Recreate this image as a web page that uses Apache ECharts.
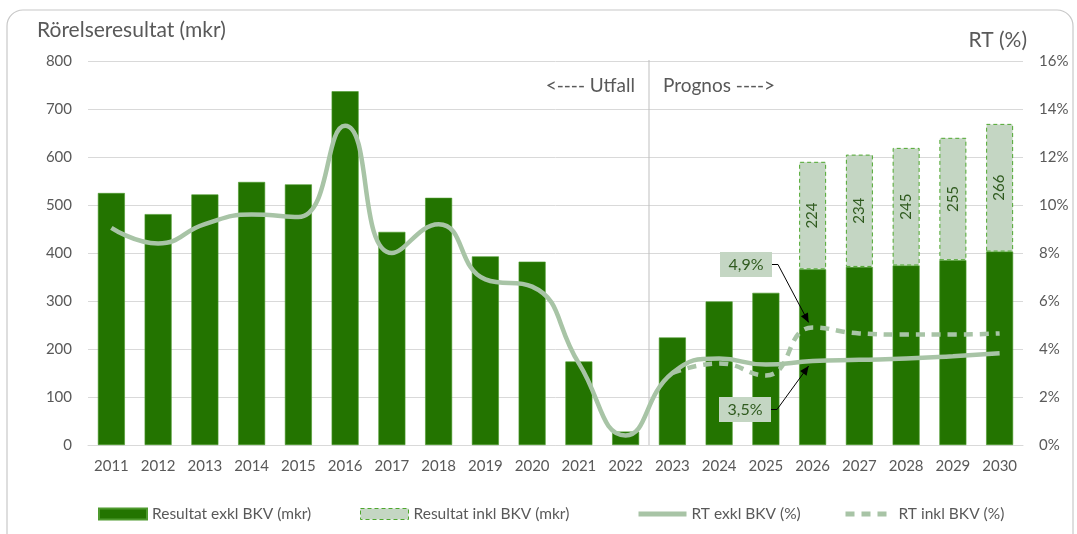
<!DOCTYPE html>
<html>
<head>
<meta charset="utf-8">
<script src="https://cdn.jsdelivr.net/npm/echarts@6/dist/echarts.min.js"></script>
<style>
  html, body { margin: 0; padding: 0; background: #fff; }
  #chart { width: 1077px; height: 534px; }
</style>
</head>
<body>
<div id="chart"></div>
<script>
// data
const years = ['2011', '2012', '2013', '2014', '2015', '2016', '2017', '2018', '2019', '2020',
  '2021', '2022', '2023', '2024', '2025', '2026', '2027', '2028', '2029', '2030']
const resExkl = [525, 481, 522, 548, 543, 737, 444, 515, 393, 382,
  174, 28, 224, 299, 317, 366, 371, 374, 385, 403]
const resInklExtra = [null, null, null, null, null, null, null, null, null, null,
  null, null, null, null, null, 224, 234, 245, 255, 266]
const rtExkl = [9.05, 8.4, 9.2, 9.6, 9.5, 13.3, 8.0, 9.2, 6.9, 6.6,
  3.4, 0.4, 3.0, 3.6, 3.35, 3.5, 3.55, 3.6, 3.7, 3.82]
const rtInkl = [null, null, null, null, null, null, null, null, null, null,
  null, null, 3.0, 3.4, 2.9, 4.9, 4.65, 4.6, 4.6, 4.65]

const textColor = '#595959'
const darkGreen = '#237400'
const paleGreen = '#c4d6c3'
const lineGreen = '#a8c4a6'
const font = 'Lato'

// one legend per entry so each sits where the reference has it
function legendAt (left, entry) {
  return {
    bottom: 12,
    left: left,
    padding: 0,
    itemWidth: 48,
    itemHeight: 11,
    itemGap: 0,
    textStyle: { color: textColor, fontSize: 15.5, fontFamily: font },
    data: [entry]
  }
}

const chart = echarts.init(document.getElementById('chart'))
chart.setOption({
  animation: false,
  textStyle: { fontFamily: font },
  grid: { left: 88, right: 54, top: 61, bottom: 89 },
  legend: [
    legendAt(98, { name: 'Resultat exkl BKV (mkr)', icon: 'rect' }),
    legendAt(360, { name: 'Resultat inkl BKV (mkr)', icon: 'rect', itemStyle: { borderColor: '#4ea72e', borderWidth: 1, borderType: [4, 3] } }),
    legendAt(636, { name: 'RT exkl BKV (%)', itemStyle: { opacity: 0 }, lineStyle: { width: 5 } }),
    legendAt(843, { name: 'RT inkl BKV (%)', itemStyle: { opacity: 0 }, lineStyle: { width: 5 } })
  ],
  xAxis: {
    type: 'category',
    data: years,
    axisLine: { lineStyle: { color: '#d9d9d9' } },
    axisTick: { show: false },
    axisLabel: { color: textColor, fontSize: 15, margin: 14 }
  },
  yAxis: [
    {
      type: 'value',
      min: 0,
      max: 800,
      interval: 100,
      name: 'Rörelseresultat (mkr)',
      nameLocation: 'end',
      nameGap: 20,
      nameTextStyle: { color: textColor, fontSize: 21, align: 'left', padding: [0, 0, 0, -51] },
      axisLabel: { color: textColor, fontSize: 15, margin: 16 },
      splitLine: { lineStyle: { color: '#d9d9d9' } }
    },
    {
      type: 'value',
      min: 0,
      max: 16,
      interval: 2,
      name: 'RT (%)',
      nameLocation: 'end',
      nameGap: 10,
      nameTextStyle: { color: textColor, fontSize: 21, align: 'right', padding: [0, -4, 0, 0] },
      axisLabel: { color: textColor, fontSize: 15, margin: 16, formatter: '{value}%' },
      splitLine: { show: false }
    }
  ],
  series: [
    {
      name: 'Resultat exkl BKV (mkr)',
      type: 'bar',
      stack: 'res',
      barWidth: 27,
      data: resExkl,
      itemStyle: { color: darkGreen, borderColor: '#4e9a2e', borderWidth: 0.6 }
    },
    {
      name: 'Resultat inkl BKV (mkr)',
      type: 'bar',
      stack: 'res',
      barWidth: 27,
      data: resInklExtra,
      itemStyle: { color: paleGreen, borderColor: '#4ea72e', borderWidth: 1, borderType: [4, 3] },
      label: {
        show: true,
        position: 'inside',
        rotate: 90,
        color: '#2f5a1e',
        fontSize: 15,
        fontFamily: font
      }
    },
    {
      name: 'RT exkl BKV (%)',
      type: 'line',
      yAxisIndex: 1,
      smooth: 0.5,
      symbol: 'none',
      data: rtExkl,
      lineStyle: { color: lineGreen, width: 4.5 },
      itemStyle: { color: lineGreen },
      z: 5
    },
    {
      name: 'RT inkl BKV (%)',
      type: 'line',
      yAxisIndex: 1,
      smooth: 0.5,
      symbol: 'none',
      data: rtInkl,
      lineStyle: { color: lineGreen, width: 4.5, type: [9, 7] },
      itemStyle: { color: lineGreen },
      z: 4
    }
  ]
})

// annotations placed from the data positions
const divX = (chart.convertToPixel({ xAxisIndex: 0 }, '2022') + chart.convertToPixel({ xAxisIndex: 0 }, '2023')) / 2
const p49 = chart.convertToPixel({ xAxisIndex: 0, yAxisIndex: 1 }, ['2026', rtInkl[15]])
const p35 = chart.convertToPixel({ xAxisIndex: 0, yAxisIndex: 1 }, ['2026', rtExkl[15]])

function arrowHead (from, to) {
  const ang = Math.atan2(to[1] - from[1], to[0] - from[0])
  const len = 9
  const half = 4
  const bx = to[0] - len * Math.cos(ang)
  const by = to[1] - len * Math.sin(ang)
  return [
    to,
    [bx + half * Math.sin(ang), by - half * Math.cos(ang)],
    [bx - half * Math.sin(ang), by + half * Math.cos(ang)]
  ]
}

function callout (text, boxX, boxY, target, up) {
  const w = 52
  const h = 25
  const sx = boxX + w
  const sy = boxY + h / 2
  const tip = [target[0] - 4, target[1] + (up ? 5 : -5)]
  return [
    {
      type: 'rect',
      shape: { x: boxX, y: boxY, width: w, height: h },
      style: { fill: paleGreen },
      z: 20
    },
    {
      type: 'text',
      x: boxX + w / 2,
      y: sy,
      style: { text: text, fill: '#2f5a1e', font: '16px Lato', align: 'center', verticalAlign: 'middle' },
      z: 21
    },
    {
      type: 'polyline',
      shape: { points: [[sx, sy], [sx + 6, sy], tip] },
      style: { stroke: '#000', lineWidth: 1, fill: null },
      z: 20
    },
    {
      type: 'polygon',
      shape: { points: arrowHead([sx + 6, sy], tip) },
      style: { fill: '#000' },
      z: 20
    }
  ]
}

chart.setOption({
  graphic: [
    {
      type: 'rect',
      shape: { x: 7, y: 10, width: 1066, height: 560, r: 16 },
      style: { fill: null, stroke: '#c8c8c8', lineWidth: 1.2 },
      silent: true
    },
    {
      type: 'line',
      shape: { x1: divX, y1: 60, x2: divX, y2: 445 },
      style: { stroke: '#bfbfbf', lineWidth: 1 },
      z: 1
    },
    {
      type: 'text',
      x: divX - 14,
      y: 86,
      style: { text: '<---- Utfall', fill: textColor, font: '19px Lato', align: 'right', verticalAlign: 'middle' }
    },
    {
      type: 'text',
      x: divX + 14,
      y: 86,
      style: { text: 'Prognos ---->', fill: textColor, font: '19px Lato', align: 'left', verticalAlign: 'middle' }
    },
    ...callout('4,9%', 720, 252, p49, false),
    ...callout('3,5%', 719, 397, p35, true)
  ]
})
</script>
</body>
</html>
